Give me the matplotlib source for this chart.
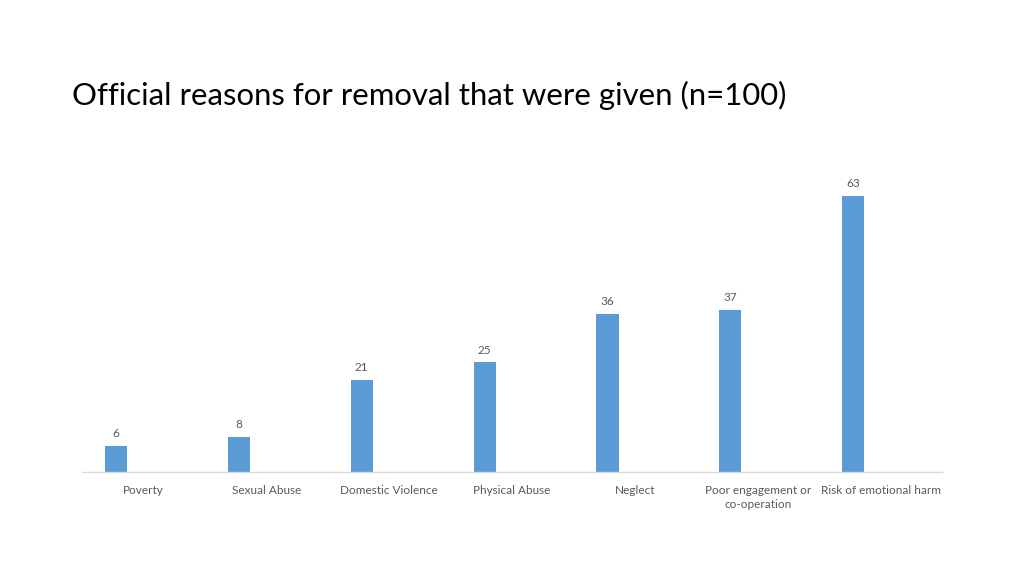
#!/usr/bin/env python3
import matplotlib
matplotlib.use("Agg")
import matplotlib.pyplot as plt
import numpy as np

# -----------------------------
# Data
# -----------------------------
categories = ["Poverty", "Sexual Abuse", "Domestic Violence", "Physical Abuse",
              "Neglect", "Poor engagement or\nco-operation", "Risk of emotional harm"]
counts = [6, 8, 21, 25, 36, 37, 63]
title = "Official reasons for removal that were given (n=100)"

bar_color = "#5B9BD5"
text_color = "#595959"
plt.rcParams['font.family'] = ['Lato', 'DejaVu Sans']

# -----------------------------
# Plot
# -----------------------------
fig = plt.figure(figsize=(10.24, 5.76), dpi=100)
W, H = 1024, 576
base_px, top_px = 472, 165.3
ax = fig.add_axes([82 / W, 1 - base_px / H, 860 / W, (base_px - top_px) / H])

x = np.arange(len(categories))
bars = ax.bar(x - 0.223, counts, width=0.18, color=bar_color)

for xi, v in zip(x, counts):
    ax.annotate(str(v), (xi - 0.223, v), xytext=(0, 5), textcoords="offset points",
                ha="center", va="bottom", fontsize=8.5, color=text_color)

ax.set_xlim(-0.5, len(categories) - 0.5)
ax.set_ylim(0, 70)
ax.set_xticks(x)
ax.set_xticklabels(categories, fontsize=8.5, color=text_color, linespacing=1.4)
ax.tick_params(axis="x", length=0, pad=9)
ax.set_yticks([])
for s in ["top", "right", "left"]:
    ax.spines[s].set_visible(False)
ax.spines["bottom"].set_color("#D9D9D9")
ax.spines["bottom"].set_linewidth(1)

fig.text(72 / W, 1 - 95 / H, title, fontsize=22.4, color="#000000", va="center", ha="left")

fig.savefig("out.png", dpi=100)
plt.close(fig)
